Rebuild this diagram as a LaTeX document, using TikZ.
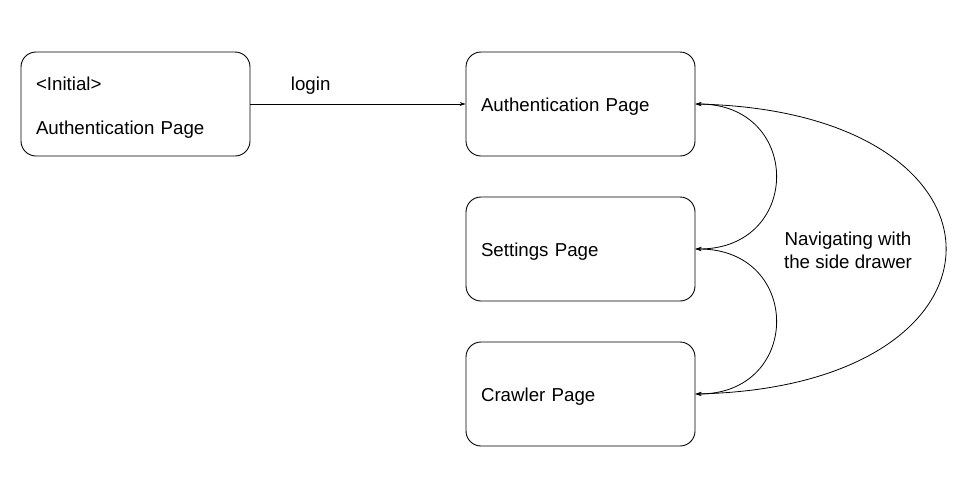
\documentclass[tikz,border=0pt]{standalone}
\usepackage{fontspec}
\setmainfont{Liberation Sans}
\usetikzlibrary{arrows.meta}
\begin{document}
\begin{tikzpicture}[x=1pt,y=-1pt,
  pagebox/.style={draw, line width=0.9pt, rounded corners=15pt, minimum width=229pt, minimum height=104pt, text width=199pt, inner xsep=15pt, align=left, font=\fontsize{18.7}{22}\selectfont},
  onebox/.style={pagebox, text height=19.6pt, text depth=3.9pt},
  tip/.style={Stealth[length=6pt,width=4pt]},
  conn/.style={line width=0.8pt, -{Stealth[length=6pt,width=4pt]}},
  both/.style={line width=0.8pt, {Stealth[length=6pt,width=4pt]}-{Stealth[length=6pt,width=4pt]}},
  lbl/.style={font=\fontsize{18.7}{23}\selectfont, align=center, inner sep=0pt}]
\useasboundingbox (0,0) rectangle (960,482);
\node[pagebox] (init) at (135.5,104) {\rule{0pt}{21.6pt}<Initial>\\[22pt]Authentication Page};
\node[onebox] (auth) at (580.5,104) {Authentication Page};
\node[onebox] (set) at (580.5,249) {Settings Page};
\node[onebox] (crawl) at (580.5,394) {Crawler Page};
\draw[conn] (init.east) -- node[lbl, pos=0.28, yshift=18pt] (login) {login} (auth.west);
\draw[both] (auth.east) .. controls +(107,0) and +(107,0) .. (set.east);
\draw[both] (set.east) .. controls +(107,0) and +(107,0) .. (crawl.east);
\draw[both] (auth.east) .. controls +(333,8) and +(333,-8) .. (crawl.east);
\node[lbl] (nav) at (848,250) {Navigating with\\the side drawer};
\end{tikzpicture}
\end{document}
